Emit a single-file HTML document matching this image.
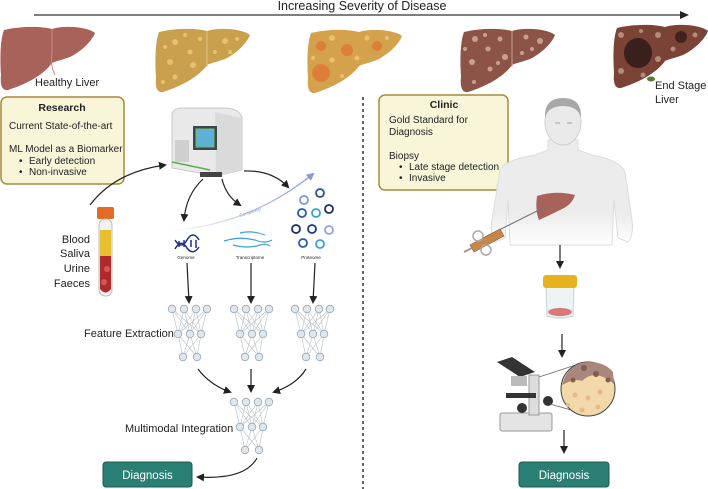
<!DOCTYPE html>
<html><head><meta charset="utf-8"><style>
body{margin:0;background:#fff;width:708px;height:489px;overflow:hidden}
svg{display:block}
text{font-family:"Liberation Sans",sans-serif;fill:#222}
</style></head><body>
<svg width="708" height="489" viewBox="0 0 708 489" xmlns="http://www.w3.org/2000/svg">
<defs>
<marker id="ah" markerWidth="8" markerHeight="8" refX="6" refY="4" orient="auto" markerUnits="userSpaceOnUse"><path d="M0,0 L8,4 L0,8 Z" fill="#222"/></marker>
<marker id="ahb" markerWidth="8" markerHeight="8" refX="6" refY="4" orient="auto" markerUnits="userSpaceOnUse"><path d="M0,0 L8,4 L0,8 Z" fill="#8a9ad8"/></marker>
<linearGradient id="cg" x1="0" x2="1"><stop offset="0" stop-color="#fff"/><stop offset="1" stop-color="#8a9ad8"/></linearGradient>
<linearGradient id="bodyg" x1="0" y1="0" x2="0" y2="1"><stop offset="0.7" stop-color="#ececec"/><stop offset="1" stop-color="#fff"/></linearGradient>
<path id="liver" d="M4,5 C25,0 45,2 52,4 C65,0 88,2 95,8 C92,16 82,26 70,32 C62,35 56,36 52,38 C45,48 30,58 8,65 C2,66 0,60 1,50 C0,35 0,15 4,5 Z"/>
</defs>

<text x="362" y="10" font-size="12.5" text-anchor="middle">Increasing Severity of Disease</text>
<line x1="34" y1="15" x2="684" y2="15" stroke="#333" stroke-width="1.2"/>
<path d="M680,11 L689,15 L680,19 Z" fill="#222"/>

<!-- livers -->
<g transform="translate(0,25)"><use href="#liver" fill="#a8625a"/><path d="M52,4 L52,28 Q50,40 55,50" stroke="#c98a80" stroke-width="1" fill="none"/></g>
<g transform="translate(155,27)"><use href="#liver" fill="#c9a04e"/><path d="M52,4 L52,40" stroke="#e0c08a" fill="none"/>
<g fill="#e8c06e"><circle cx="20" cy="15" r="3"/><circle cx="35" cy="25" r="2.5"/><circle cx="15" cy="35" r="3"/><circle cx="45" cy="12" r="2"/><circle cx="70" cy="14" r="3"/><circle cx="20" cy="50" r="2.5"/><circle cx="60" cy="25" r="2"/><circle cx="82" cy="12" r="2"/><circle cx="38" cy="38" r="3"/><circle cx="8" cy="55" r="2"/><circle cx="10" cy="20" r="2"/><circle cx="30" cy="8" r="2"/><circle cx="75" cy="25" r="2"/></g></g>
<g transform="translate(307,28)"><use href="#liver" fill="#d4a24c"/>
<g fill="#df7a38" opacity="0.85"><circle cx="14" cy="45" r="9"/><circle cx="40" cy="22" r="6"/><circle cx="70" cy="18" r="5"/><circle cx="14" cy="18" r="5"/></g>
<g fill="#ecc070"><circle cx="25" cy="10" r="3"/><circle cx="50" cy="30" r="2.5"/><circle cx="25" cy="32" r="2.5"/><circle cx="80" cy="10" r="2"/><circle cx="35" cy="48" r="2"/><circle cx="60" cy="10" r="2.5"/><circle cx="6" cy="30" r="2"/></g></g>
<g transform="translate(460,27)"><use href="#liver" fill="#8c5446"/><path d="M52,4 L52,40" stroke="#c9a08e" fill="none"/>
<g fill="#c9a08e"><circle cx="15" cy="12" r="3"/><circle cx="28" cy="22" r="2.5"/><circle cx="12" cy="35" r="3"/><circle cx="40" cy="12" r="2.5"/><circle cx="45" cy="30" r="3"/><circle cx="66" cy="10" r="2.5"/><circle cx="80" cy="14" r="3"/><circle cx="30" cy="42" r="2.5"/><circle cx="62" cy="26" r="2"/><circle cx="14" cy="55" r="2"/><circle cx="38" cy="36" r="2"/><circle cx="72" cy="22" r="2"/><circle cx="5" cy="22" r="2"/><circle cx="25" cy="8" r="2"/></g></g>
<g transform="translate(613,23)"><use href="#liver" fill="#7a4336"/>
<ellipse cx="25" cy="30" rx="14" ry="15" fill="#3a201c"/><circle cx="68" cy="14" r="6" fill="#40231d"/>
<g fill="#b48a7a"><circle cx="8" cy="12" r="3"/><circle cx="45" cy="12" r="3"/><circle cx="45" cy="36" r="3"/><circle cx="82" cy="12" r="2.5"/><circle cx="8" cy="48" r="3"/><circle cx="30" cy="52" r="2.5"/><circle cx="60" cy="26" r="2.5"/><circle cx="28" cy="8" r="2"/></g>
<ellipse cx="38" cy="56" rx="4" ry="2.5" fill="#5a7a3a"/></g>

<text x="35" y="86" font-size="11">Healthy Liver</text>
<text x="655" y="89" font-size="11">End Stage</text>
<text x="655" y="103" font-size="11">Liver</text>

<line x1="363" y1="97" x2="363" y2="489" stroke="#333" stroke-width="1.5" stroke-dasharray="3,3"/>

<rect x="1" y="97" width="123" height="87" rx="6" fill="#f8f5d9" stroke="#a58b3c" stroke-width="1.5"/>
<text x="62" y="111" font-size="10.5" font-weight="bold" text-anchor="middle">Research</text>
<text x="9" y="129" font-size="10">Current State-of-the-art</text>
<text x="9" y="152" font-size="10">ML Model as a Biomarker</text>
<text x="19" y="164" font-size="10">•</text><text x="29" y="164" font-size="10">Early detection</text>
<text x="19" y="175" font-size="10">•</text><text x="29" y="175" font-size="10">Non-invasive</text>

<rect x="379" y="95" width="129" height="95" rx="6" fill="#f8f5d9" stroke="#a58b3c" stroke-width="1.5"/>
<text x="444" y="108" font-size="10.5" font-weight="bold" text-anchor="middle">Clinic</text>
<text x="389" y="123" font-size="10">Gold Standard for</text>
<text x="389" y="135" font-size="10">Diagnosis</text>
<text x="389" y="159" font-size="10">Biopsy</text>
<text x="399" y="170" font-size="10">•</text><text x="409" y="170" font-size="10">Late stage detection</text>
<text x="399" y="181" font-size="10">•</text><text x="409" y="181" font-size="10">Invasive</text>

<!-- machine -->
<path d="M172,114 Q174,108 182,108 L226,108 Q240,109 242,118 L242,170 L216,176 L172,168 Z" fill="#e9e9e9" stroke="#c8c8c8"/>
<path d="M215,112 L242,118 L242,170 L216,176 Z" fill="#dadada"/>
<rect x="193" y="126" width="24" height="24" fill="#3c4650"/><rect x="196" y="129" width="18" height="18" fill="#5db0d8" stroke="#6dbf60"/>
<rect x="175" y="140" width="14" height="22" fill="#cfcfcf"/>
<path d="M172,162 L210,170" stroke="#5ab04a" stroke-width="1.5"/>
<rect x="200" y="172" width="22" height="5" fill="#444"/>

<!-- tube -->
<rect x="97" y="207" width="17" height="12" rx="2" fill="#e46a2a"/>
<rect x="99" y="219" width="13" height="77" rx="6" fill="#f2f2f2" stroke="#bbb"/>
<rect x="100" y="230" width="11" height="26" fill="#e6c02e"/>
<path d="M100,256 L111,256 L111,289 Q105.5,296 100,289 Z" fill="#b02a2a"/>
<circle cx="107" cy="269" r="3" fill="#d05a5a"/><circle cx="104" cy="282" r="3" fill="#d05a5a"/>

<g font-size="11" text-anchor="end">
<text x="90" y="243">Blood</text><text x="90" y="257">Saliva</text><text x="90" y="272">Urine</text><text x="90" y="287">Faeces</text></g>

<g fill="none" stroke="#222" stroke-width="1.2">
<path d="M90,205 Q115,172 165,165" marker-end="url(#ah)"/>
<path d="M203,179 Q186,195 184,220" marker-end="url(#ah)"/>
<path d="M222,179 Q226,196 240,205" marker-end="url(#ah)"/>
<path d="M244,171 Q272,170 288,187" marker-end="url(#ah)"/>
</g>
<path d="M168,231 Q250,225 313,174" fill="none" stroke="url(#cg)" stroke-width="1.3" marker-end="url(#ahb)"/>
<text x="240" y="217" font-size="4.5" fill="#8a9ad8" style="fill:#8a9ad8" transform="rotate(-18 240 217)">Complexity</text>

<g stroke="#1c2e8a" stroke-width="1.5" fill="none">
<path d="M175,240 Q181,250 187,240 Q193,230 199,240"/><path d="M175,249 Q181,238 187,248 Q193,256 199,247"/>
<line x1="179" y1="241" x2="179" y2="247"/><line x1="184" y1="240" x2="184" y2="247"/><line x1="191" y1="240" x2="191" y2="247"/><line x1="196" y1="240" x2="196" y2="248"/></g>
<g stroke="#3aa0e0" stroke-width="1.2" fill="none">
<path d="M224,241 Q240,236 255,240 Q265,244 272,240"/><path d="M233,245 Q248,249 260,245 Q266,243 270,246"/><path d="M240,233 Q252,230 265,235"/></g>
<g fill="none" stroke-width="1.8">
<circle cx="320" cy="193" r="4" stroke="#2a4fa0"/><circle cx="304" cy="200" r="4" stroke="#7a9ad8"/><circle cx="329" cy="209" r="4" stroke="#1c2e6a"/>
<circle cx="302" cy="213" r="4" stroke="#2a5ab0"/><circle cx="316" cy="213" r="4" stroke="#3aa0d8"/><circle cx="296" cy="229" r="4" stroke="#1c2e6a"/>
<circle cx="312" cy="229" r="4" stroke="#1c3a8a"/><circle cx="329" cy="230" r="4" stroke="#8aa8e0"/><circle cx="303" cy="243" r="4" stroke="#2a5ab0"/><circle cx="320" cy="244" r="4" stroke="#3aa0d8"/></g>
<g font-size="4.5" text-anchor="middle"><text x="186" y="259">Genome</text><text x="250" y="259">Transcriptome</text><text x="311" y="259">Proteome</text></g>

<g fill="none" stroke="#222" stroke-width="1.2">
<path d="M187,263 L189,302" marker-end="url(#ah)"/>
<path d="M251,263 L251,302" marker-end="url(#ah)"/>
<path d="M315,263 L313,302" marker-end="url(#ah)"/>
<path d="M198,369 Q210,385 230,392" marker-end="url(#ah)"/>
<path d="M251,369 L251,391" marker-end="url(#ah)"/>
<path d="M306,369 Q296,385 274,392" marker-end="url(#ah)"/>
<path d="M257,458 Q245,480 198,477" marker-end="url(#ah)"/>
</g>

<g id="net" stroke="#b8c0c8" stroke-width="0.6">
<path d="M172,309 L178,334 M172,309 L190,334 M172,309 L201,334 M184,309 L178,334 M184,309 L190,334 M184,309 L201,334 M196,309 L178,334 M196,309 L190,334 M196,309 L201,334 M207,309 L178,334 M207,309 L190,334 M207,309 L201,334 M178,334 L183,357 M178,334 L197,357 M190,334 L183,357 M190,334 L197,357 M201,334 L183,357 M201,334 L197,357"/>
<g fill="#dfe6ec" stroke="#9aa8b4" stroke-width="0.8"><circle cx="172" cy="309" r="3.8"/><circle cx="184" cy="309" r="3.8"/><circle cx="196" cy="309" r="3.8"/><circle cx="207" cy="309" r="3.8"/><circle cx="178" cy="334" r="3.8"/><circle cx="190" cy="334" r="3.8"/><circle cx="201" cy="334" r="3.8"/><circle cx="183" cy="357" r="3.8"/><circle cx="197" cy="357" r="3.8"/></g>
</g>
<use href="#net" transform="translate(62,0)"/>
<use href="#net" transform="translate(123,0)"/>
<use href="#net" transform="translate(62,93)"/>

<text x="84" y="337" font-size="11">Feature Extraction</text>
<text x="125" y="432" font-size="11">Multimodal Integration</text>

<rect x="103" y="462" width="89" height="25" rx="3" fill="#2a7f74" stroke="#1e5a52"/>
<text x="147.5" y="479" font-size="11.5" style="fill:#fff" text-anchor="middle">Diagnosis</text>

<!-- human -->
<path d="M500,170 Q505,160 535,155 L548,150 L548,140 L578,140 L578,150 L592,155 Q620,160 625,172 L632,220 Q634,235 628,242 L618,238 L614,200 L612,245 L510,245 L508,200 L505,238 L495,242 Q490,235 492,220 Z" fill="url(#bodyg)" stroke="#dcdcdc"/>
<ellipse cx="563" cy="122" rx="18" ry="23" fill="#eaeaea" stroke="#d0d0d0"/>
<path d="M545,118 Q544,98 563,98 Q582,98 581,118 Q578,106 563,106 Q548,106 545,118 Z" fill="#a8a8a8"/>
<path d="M555,123 l5,0 M567,123 l5,0" stroke="#888" stroke-width="0.8"/>
<path d="M537,196 Q555,190 575,195 Q572,205 560,210 Q548,216 539,220 Q535,210 537,196 Z" fill="#a8625a"/>
<line x1="485" y1="237" x2="545" y2="207" stroke="#777" stroke-width="1.2"/>
<path d="M470,245 L500,229 L504,236 L474,252 Z" fill="#c8864a" stroke="#8a5a30" stroke-width="0.6"/>
<circle cx="478" cy="236" r="5" fill="none" stroke="#aaa" stroke-width="1.5"/><circle cx="486" cy="250" r="5" fill="none" stroke="#aaa" stroke-width="1.5"/>
<line x1="464" y1="252" x2="472" y2="248" stroke="#999" stroke-width="2"/>

<g fill="none" stroke="#222" stroke-width="1.2">
<path d="M560,245 L560,267" marker-end="url(#ah)"/>
<path d="M562,334 L562,356" marker-end="url(#ah)"/>
<path d="M564,430 L564,452" marker-end="url(#ah)"/>
</g>
<path d="M546,287 L574,287 L573,316 Q560,320 547,316 Z" fill="#eef3f6" stroke="#c8d0d6"/>
<rect x="543" y="275" width="34" height="13" rx="3" fill="#e6b31e"/>
<ellipse cx="560" cy="312" rx="12" ry="4" fill="#d87a7a"/>
<rect x="500" y="413" width="52" height="18" rx="2" fill="#e4e4e4" stroke="#999"/>
<rect x="529" y="375" width="10" height="40" fill="#ddd" stroke="#999"/>
<rect x="506" y="393" width="30" height="5" fill="#333"/>
<circle cx="522" cy="408" r="5" fill="#333"/><circle cx="548" cy="401" r="5" fill="#333"/>
<path d="M497,362 L512,357 L535,372 L520,377 Z" fill="#333"/>
<rect x="511" y="376" width="16" height="10" fill="#bbb"/>
<line x1="539" y1="377" x2="585" y2="362" stroke="#666" stroke-width="0.7"/><line x1="550" y1="404" x2="585" y2="414" stroke="#666" stroke-width="0.7"/>
<circle cx="588" cy="389" r="27" fill="#f3d9aa" stroke="#444"/>
<path d="M562,385 Q575,378 582,381 Q595,368 614,384 L613,372 Q605,362 588,362 Q568,363 562,385 Z" fill="#a9877c"/>
<g fill="#8a5a50"><circle cx="584" cy="368" r="3"/><circle cx="596" cy="374" r="3"/><circle cx="573" cy="380" r="2.5"/><circle cx="608" cy="380" r="2.5"/></g>
<g fill="#e7b988"><circle cx="575" cy="395" r="2.5"/><circle cx="588" cy="398" r="2.5"/><circle cx="600" cy="392" r="2.5"/><circle cx="582" cy="410" r="2.5"/><circle cx="598" cy="407" r="2.5"/><circle cx="568" cy="405" r="2"/></g>

<rect x="519" y="462" width="90" height="25" rx="3" fill="#2a7f74" stroke="#1e5a52"/>
<text x="564" y="479" font-size="11.5" style="fill:#fff" text-anchor="middle">Diagnosis</text>
</svg>
</body></html>
